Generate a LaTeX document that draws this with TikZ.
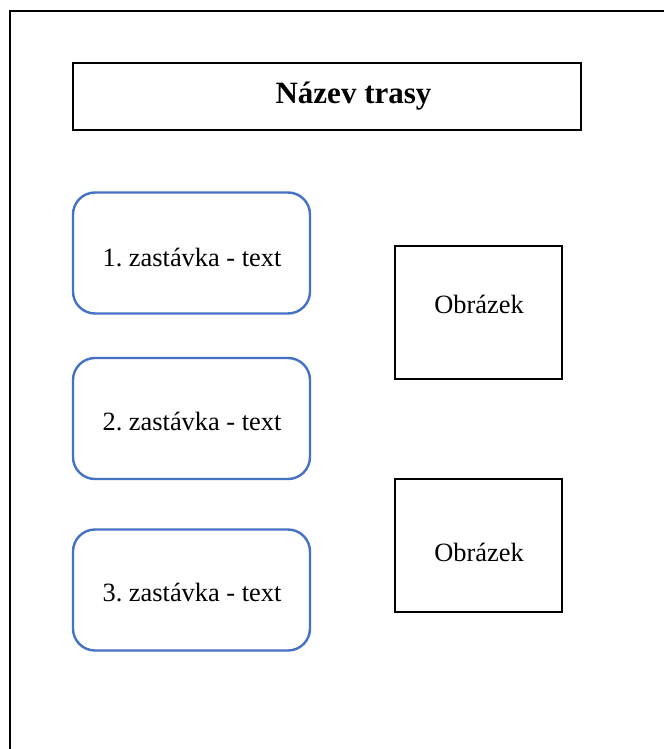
\documentclass[tikz,border=0pt]{standalone}
\usepackage{fontspec}
\setmainfont{Liberation Serif}
\begin{document}
\frenchspacing
\begin{tikzpicture}[x=1pt,y=-1pt,
  stopbox/.style={draw={rgb,255:red,68;green,114;blue,196}, line width=2.4pt, rounded corners=22pt, minimum width=237pt, minimum height=121pt, inner sep=0pt},
  picbox/.style={draw=black, line width=1.1pt, minimum width=167pt, minimum height=133pt, inner sep=0pt},
  titlebox/.style={draw=black, line width=1.1pt, minimum width=508pt, minimum height=67pt, inner sep=0pt},
  lbl/.style={inner sep=0pt, font=\fontsize{26.4}{30}\selectfont}]
\useasboundingbox (0,0) rectangle (664,749);
\fill[white] (0,0) rectangle (664,749);
\coordinate (fbl) at (10,749);
\coordinate (ftl) at (10,11);
\coordinate (ftr) at (664,11);
\draw[line width=1.6pt] (fbl) -- (ftl) -- (ftr);
\node[titlebox] (title) at (327,96.5) {};
\node[inner sep=0pt, font=\fontsize{31}{34}\selectfont\bfseries] (titletext) at (353.5,96) {Název trasy};
\node[stopbox] (s1) at (191.5,253) {};
\node[stopbox] (s2) at (191.5,418.5) {};
\node[stopbox] (s3) at (191.5,590) {};
\node[lbl] (s1t) at (192,258) {1. zastávka - text};
\node[lbl] (s2t) at (192,422) {2. zastávka - text};
\node[lbl] (s3t) at (192,593) {3. zastávka - text};
\node[picbox] (p1) at (478.5,312.5) {};
\node[picbox] (p2) at (478.5,545.5) {};
\node[lbl] (p1t) at (479,304) {Obrázek};
\node[lbl] (p2t) at (479,552) {Obrázek};
\end{tikzpicture}
\end{document}
